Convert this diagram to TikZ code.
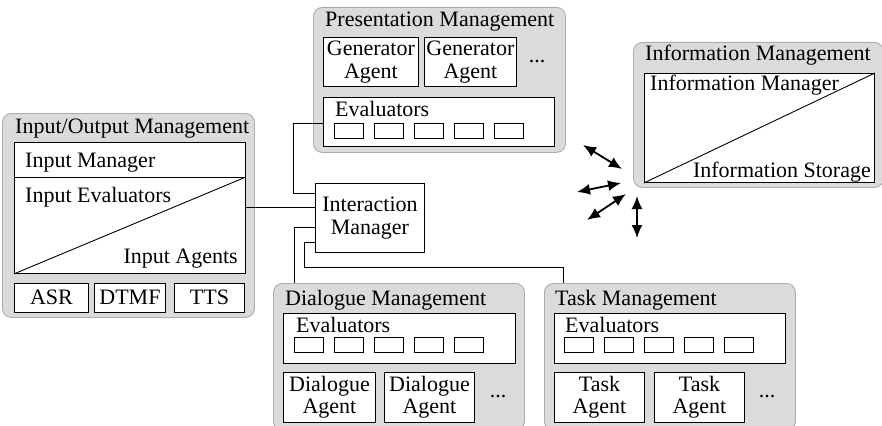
\documentclass[tikz,border=0pt]{standalone}
\usepackage{fontspec}
\setmainfont{Liberation Serif}
\usetikzlibrary{arrows.meta}
\begin{document}
\begin{tikzpicture}[x=1pt,y=-1pt,
  every node/.style={font=\fontsize{22}{22.5}\selectfont},
  group/.style={draw=gray!65,fill=gray!28,rounded corners=9pt,line width=0.9pt},
  wbox/.style={draw=black,fill=white,line width=0.9pt,inner sep=0pt,anchor=north west},
  sbox/.style={draw=black,fill=white,line width=0.8pt,inner sep=0pt,anchor=north west,minimum width=29pt,minimum height=14.5pt},
  lbl/.style={inner sep=0pt,anchor=base west},
  conn/.style={draw=black,line width=0.9pt},
  darr/.style={line width=1.8pt,{Latex[length=13pt,width=11pt]}-{Latex[length=13pt,width=11pt]}},
  dots/.style={inner sep=0pt,anchor=base}
]
\useasboundingbox (0,0) rectangle (882,425);
\clip (0,0) rectangle (882,425);

% ---------- Input/Output Management ----------
\node[group,inner sep=0pt,anchor=north west,minimum width=252pt,minimum height=204pt] (iog) at (2,113) {};
\node[lbl] (iot) at (15,133) {Input/Output Management};
\node[wbox,minimum width=231pt,minimum height=131pt] (ioin) at (14,142) {};
\draw[line width=0.9pt] (ioin.west |- 0,177) -- (ioin.east |- 0,177);
\draw[line width=0.9pt] (ioin.south west) -- (ioin.east |- 0,177);
\node[lbl] (inmgr) at (25,167) {Input Manager};
\node[lbl] (ineval) at (25,202) {Input Evaluators};
\node[inner sep=0pt,anchor=base east] (inag) at (238,263) {Input Agents};
\node[wbox,minimum width=74pt,minimum height=29pt] (asr) at (14,283) {};
\node[anchor=center,inner sep=0pt] at ([yshift=1pt]asr.center) {ASR};
\node[wbox,minimum width=71pt,minimum height=29pt] (dtmf) at (94,283) {};
\node[anchor=center,inner sep=0pt] at ([yshift=1pt]dtmf.center) {DTMF};
\node[wbox,minimum width=70pt,minimum height=29pt] (tts) at (174,283) {};
\node[anchor=center,inner sep=0pt] at ([yshift=1pt]tts.center) {TTS};

% ---------- Presentation Management ----------
\node[group,inner sep=0pt,anchor=north west,minimum width=252pt,minimum height=145pt] (prg) at (313,7) {};
\node[lbl] (prt) at (325,27) {Presentation Management};
\node[wbox,minimum width=95pt,minimum height=49pt,align=center] (gen1) at (323,37) {Generator\\Agent};
\node[wbox,minimum width=92pt,minimum height=49pt,align=center] (gen2) at (424,37) {Generator\\Agent};
\node[dots] (prdots) at (537,63) {...};
\node[wbox,minimum width=231pt,minimum height=49pt] (preval) at (323,97) {};
\node[lbl] at (335,117) {Evaluators};
\foreach \i in {0,...,4} {
  \node[sbox] (pre\i) at (334+40*\i,123) {};
}

% ---------- Information Management ----------
\node[group,inner sep=0pt,anchor=north west,minimum width=250pt,minimum height=145pt] (ing) at (633,42) {};
\node[lbl] (intt) at (645,61) {Information Management};
\node[wbox,minimum width=230pt,minimum height=109pt] (inin) at (644,73) {};
\draw[line width=0.9pt] (inin.south west) -- (inin.north east);
\node[lbl] (infm) at (650,91) {Information Manager};
\node[inner sep=0pt,anchor=base east] (infs) at (871,177) {Information Storage};

% ---------- Interaction Manager ----------
\node[wbox,minimum width=109pt,minimum height=69pt,align=center] (im) at (315,183) {Interaction\\Manager};

% ---------- Dialogue Management ----------
\node[group,inner sep=0pt,anchor=north west,minimum width=251pt,minimum height=147pt] (dlg) at (273,283) {};
\node[lbl] (dlt) at (285,305) {Dialogue Management};
\node[wbox,minimum width=232pt,minimum height=50pt] (dleval) at (283,313) {};
\node[lbl] at (296,332) {Evaluators};
\foreach \i in {0,...,4} {
  \node[sbox] (dle\i) at (294+40*\i,337) {};
}
\node[wbox,minimum width=92pt,minimum height=50pt,align=center] (dla1) at (283,372) {Dialogue\\Agent};
\node[wbox,minimum width=90pt,minimum height=50pt,align=center] (dla2) at (384,372) {Dialogue\\Agent};
\node[dots] (dldots) at (498,397) {...};

% ---------- Task Management ----------
\node[group,inner sep=0pt,anchor=north west,minimum width=251pt,minimum height=147pt] (tkg) at (544,283) {};
\node[lbl] (tkt) at (555,305) {Task Management};
\node[wbox,minimum width=231pt,minimum height=50pt] (tkeval) at (554,313) {};
\node[lbl] at (565,332) {Evaluators};
\foreach \i in {0,...,4} {
  \node[sbox] (tke\i) at (564+40*\i,337) {};
}
\node[wbox,minimum width=90pt,minimum height=50pt,align=center] (tka1) at (554,372) {Task\\Agent};
\node[wbox,minimum width=90pt,minimum height=50pt,align=center] (tka2) at (654,372) {Task\\Agent};
\node[dots] (tkdots) at (767,397) {...};

% ---------- Connectors ----------
\draw[conn] (ioin.east |- 0,207) -- (im.west |- 0,207);
\draw[conn] (preval.west |- 0,123) -- (293,123) -- (293,193) -- (im.west |- 0,193);
\draw[conn] (im.west |- 0,227) -- (294,227) -- (294,0 |- dlg.north);
\draw[conn] (im.west |- 0,242) -- (304,242) -- (304,267) -- (563,267) -- (563,0 |- tkg.north);

% ---------- Information arrows ----------
\coordinate (a1s) at (583,145); \coordinate (a1e) at (622,169);
\coordinate (a2s) at (577,192); \coordinate (a2e) at (621,183);
\coordinate (a3s) at (587,220); \coordinate (a3e) at (626,194);
\coordinate (a4s) at (637,196); \coordinate (a4e) at (637,238);
\draw[darr] (a1s) -- (a1e);
\draw[darr] (a2s) -- (a2e);
\draw[darr] (a3s) -- (a3e);
\draw[darr] (a4s) -- (a4e);
\end{tikzpicture}
\end{document}
